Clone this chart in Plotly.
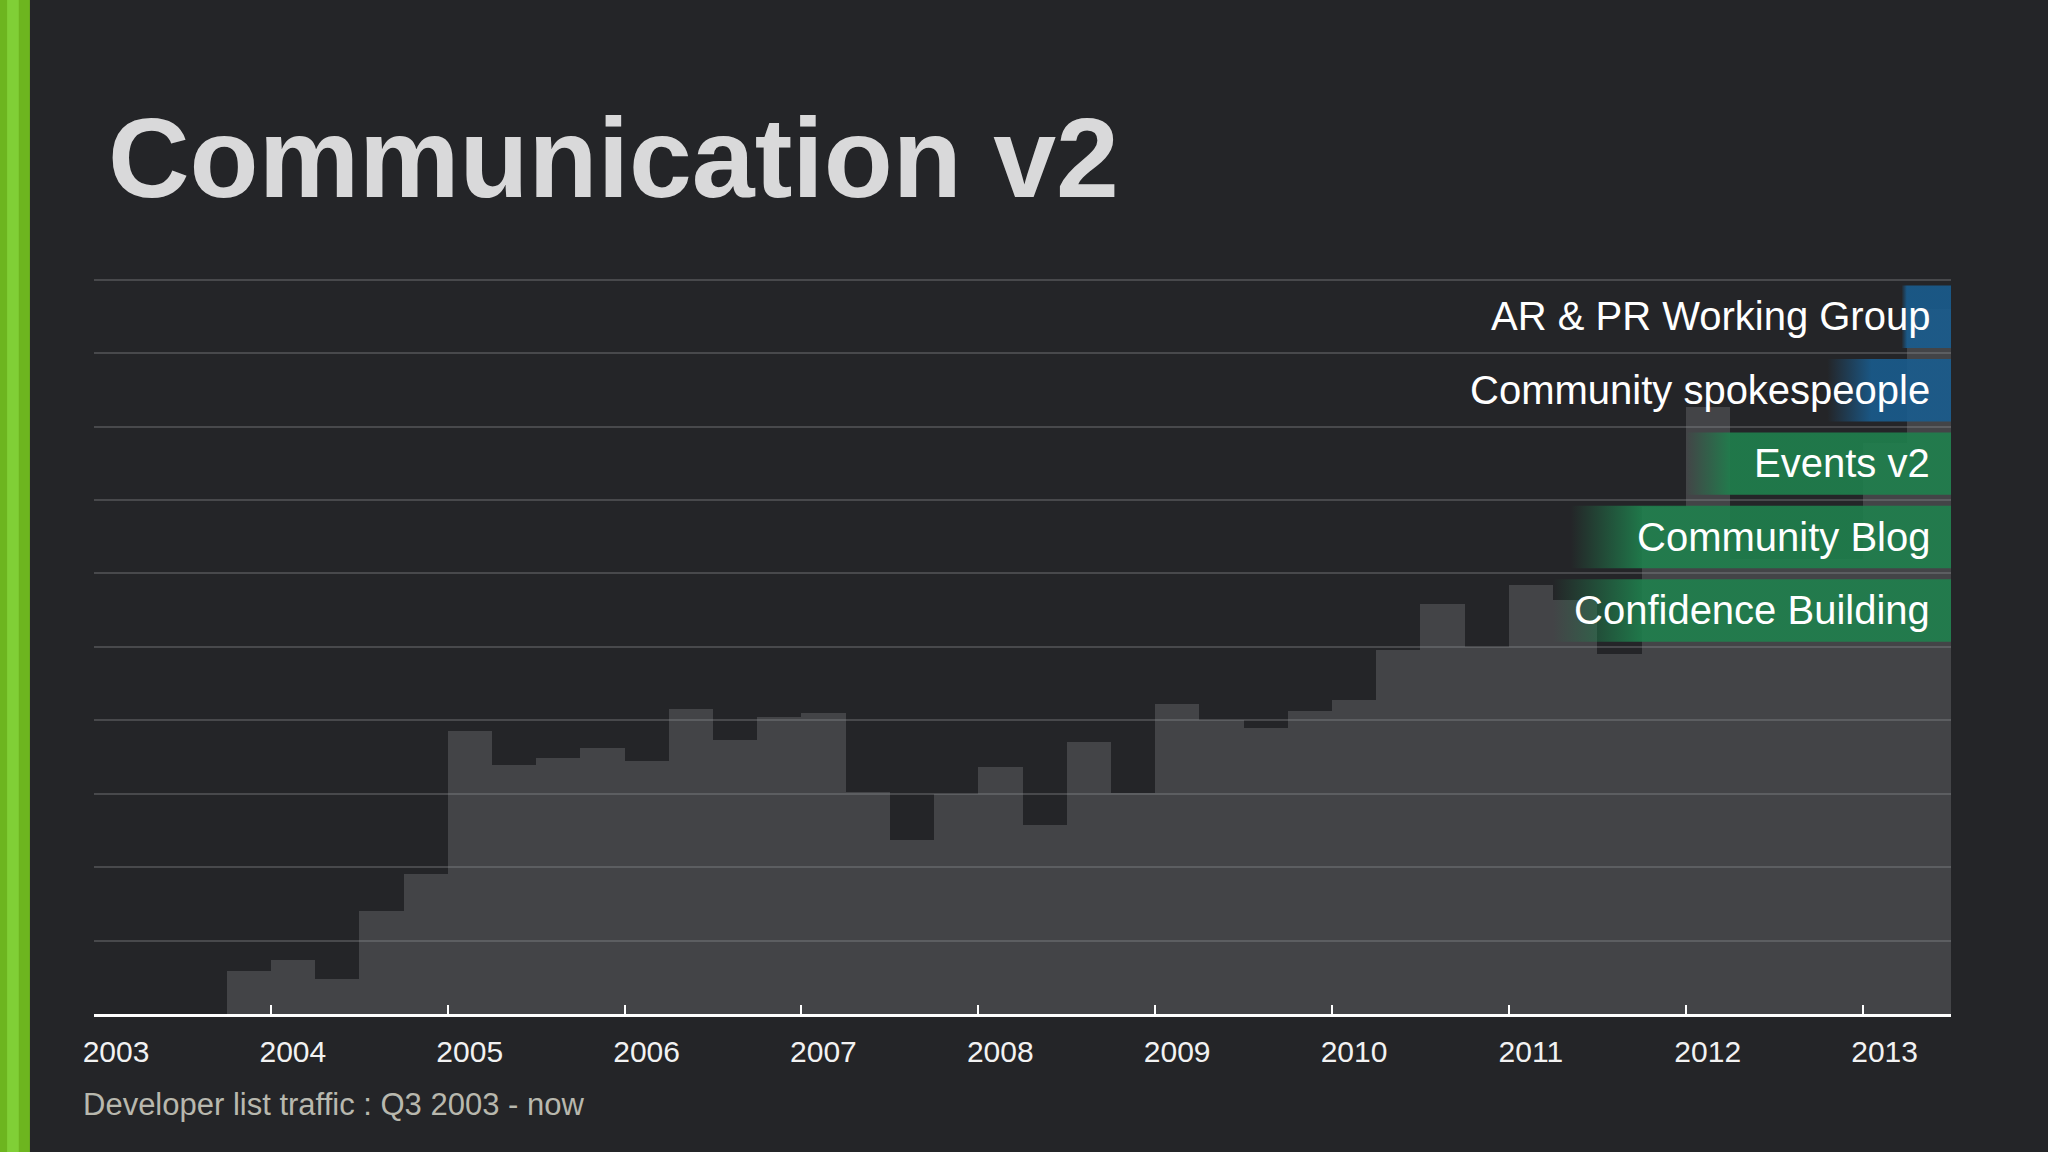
import plotly.graph_objects as go

# ---------------- data ----------------
quarter_year = [2003, 2003,
                2004, 2004, 2004, 2004,
                2005, 2005, 2005, 2005,
                2006, 2006, 2006, 2006,
                2007, 2007, 2007, 2007,
                2008, 2008, 2008, 2008,
                2009, 2009, 2009, 2009,
                2010, 2010, 2010, 2010,
                2011, 2011, 2011, 2011,
                2012, 2012, 2012, 2012,
                2013, 2013]
quarter_num = [3, 4,
               1, 2, 3, 4,
               1, 2, 3, 4,
               1, 2, 3, 4,
               1, 2, 3, 4,
               1, 2, 3, 4,
               1, 2, 3, 4,
               1, 2, 3, 4,
               1, 2, 3, 4,
               1, 2, 3, 4,
               1, 2]
traffic = [0.0, 0.59,
           0.74, 0.47, 1.40, 1.91,
           3.86, 3.39, 3.49, 3.62,
           3.45, 4.16, 3.73, 4.05,
           4.10, 3.03, 2.37, 3.00,
           3.36, 2.57, 3.70, 3.01,
           4.22, 4.00, 3.89, 4.12,
           4.28, 4.96, 5.58, 5.00,
           5.84, 5.64, 4.90, 6.90,
           8.27, 6.20, 6.20, 6.20,
           7.78, 9.60]

initiatives = ["Confidence Building", "Community Blog", "Events v2",
               "Community spokespeople", "AR & PR Working Group"]
initiative_row = [5, 6, 7, 8, 9]
initiative_fade_from = [2011.25, 2011.35, 2012.0, 2012.8, 2013.22]
initiative_start = [2011.75, 2011.75, 2012.25, 2013.05, 2013.25]
initiative_rgb = ["31,128,77", "31,128,77", "31,128,77", "25,92,142", "25,92,142"]

year_ticks = list(range(2003, 2014))
x_end = 2013.5

title_text = "Communication v2"
subtitle_text = "Developer list traffic : Q3 2003 - now"

FONT = "Liberation Sans, Arial, Helvetica, sans-serif"

# ---------------- figure ----------------
fig = go.Figure()

bar_x = [y + (q - 1) / 4 for y, q in zip(quarter_year, quarter_num)]
fig.add_trace(go.Bar(
    x=bar_x, y=traffic, width=0.25, offset=0,
    marker=dict(color="rgba(140,141,145,0.30)", line=dict(width=0)),
    hoverinfo="skip", showlegend=False,
))

for name, row, f0, s0, rgb in zip(initiatives, initiative_row, initiative_fade_from,
                                  initiative_start, initiative_rgb):
    y0, y1 = row + 0.07, row + 0.92
    fig.add_trace(go.Scatter(
        x=[f0, x_end, x_end, f0, f0], y=[y0, y0, y1, y1, y0],
        mode="lines", fill="toself", line=dict(width=0),
        fillgradient=dict(type="horizontal",
                          colorscale=[[0, f"rgba({rgb},0)"], [1, f"rgba({rgb},0.9)"]],
                          start=f0, stop=s0),
        hoverinfo="skip", showlegend=False,
    ))
    fig.add_annotation(x=2013.395, y=row + 0.5, xref="x", yref="y",
                       text=name, showarrow=False, xanchor="right", yanchor="middle",
                       font=dict(family=FONT, size=40, color="#ffffff"))

# title & subtitle
fig.add_annotation(x=0.0062, y=1.16, xref="paper", yref="paper", text=title_text,
                   showarrow=False, xanchor="left", yanchor="middle",
                   font=dict(family=FONT, size=113, color="#d9d9da", weight="bold"))
fig.add_annotation(x=-0.007, y=-0.1233, xref="paper", yref="paper", text=subtitle_text,
                   showarrow=False, xanchor="left", yanchor="middle",
                   font=dict(family=FONT, size=31, color="#b8b8ae"))

# left green accent bar
fig.add_shape(type="rect", xref="paper", yref="paper", x0=-0.06, x1=-0.0345,
              y0=-0.2, y1=1.4, fillcolor="#6db51f", line=dict(width=0), layer="below")
fig.add_shape(type="rect", xref="paper", yref="paper", x0=-0.0468, x1=-0.0405,
              y0=-0.2, y1=1.4, fillcolor="#80cf36", line=dict(width=0), layer="below")

fig.update_layout(
    width=2048, height=1152,
    margin=dict(l=94, r=97, t=276, b=138, pad=0),
    paper_bgcolor="#242528", plot_bgcolor="rgba(0,0,0,0)",
    showlegend=False, bargap=0,
    xaxis=dict(range=[2003, x_end], tickvals=year_ticks,
               ticktext=[str(y) for y in year_ticks],
               showgrid=False, zeroline=False,
               showline=True, linecolor="#ffffff", linewidth=3,
               ticks="inside", ticklen=9, tickwidth=2, tickcolor="#ffffff",
               tickfont=dict(family=FONT, size=30, color="#f2f2f2"),
               ticklabelshift=22, ticklabelstandoff=9, fixedrange=True),
    yaxis=dict(range=[0, 10.05], dtick=1, tick0=0, showticklabels=False,
               showgrid=True, gridcolor="#48494c", gridwidth=2,
               zeroline=False, showline=False, ticks="", fixedrange=True),
)

fig.write_html("out.html",
               config={"displayModeBar": False},
               post_script="document.body.style.margin='0';document.body.style.overflow='hidden';")
